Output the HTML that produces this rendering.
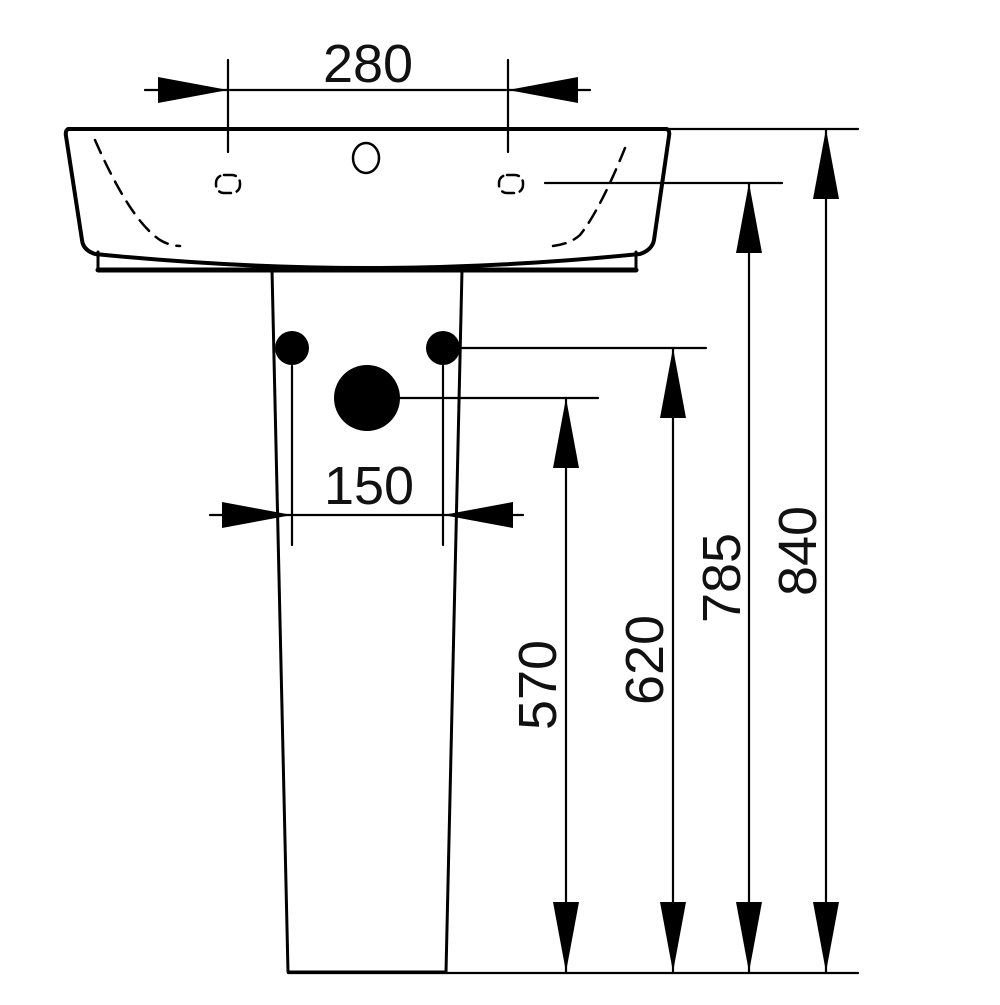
<!DOCTYPE html>
<html><head><style>html,body{margin:0;padding:0;background:#fff}</style></head>
<body>
<svg width="1000" height="1000" viewBox="0 0 1000 1000" xmlns="http://www.w3.org/2000/svg">
<defs>
<marker id="a" viewBox="0 0 70 26" refX="70" refY="13" markerWidth="70" markerHeight="26" markerUnits="userSpaceOnUse" orient="auto"><path d="M0,0 L70,13 L0,26 Z" fill="#000"/></marker>
</defs>
<g fill="none" stroke="#000" stroke-linecap="round" stroke-linejoin="round">
<path d="M68,129 L667,129 Q670,131 669,136 L654,240 Q652,250 640,254 Q500,268 367,268 Q234,268 95,254 Q83,250 82,240 L66,136 Q65,131 68,129 Z" stroke-width="4"/>
<path d="M98,252 L98,270 L636,270 L636,252" stroke-width="3"/>
<line x1="98" y1="270" x2="636" y2="270" stroke-width="5"/>
<path d="M95,140 Q130,220 160,240 Q170,246 180,246" stroke-width="2.5" stroke-dasharray="14,9"/>
<path d="M625,148 Q600,210 580,235 Q570,244 553,246" stroke-width="2.5" stroke-dasharray="14,9"/>
<ellipse cx="366" cy="158" rx="13" ry="15" stroke-width="2.5"/>
<rect x="216" y="175" width="24" height="18" rx="8" stroke-width="2.5" stroke-dasharray="12,6"/>
<rect x="499" y="175" width="24" height="18" rx="8" stroke-width="2.5" stroke-dasharray="12,6"/>
<path d="M272,270 L288,972 L446,972 L462,270" stroke-width="3"/>
<g stroke-width="2.2">
<line x1="228" y1="60" x2="228" y2="152"/>
<line x1="508" y1="60" x2="508" y2="152"/>
<line x1="230" y1="90" x2="506" y2="90"/>
<line x1="145" y1="90" x2="228" y2="90" marker-end="url(#a)"/>
<line x1="590" y1="90" x2="508" y2="90" marker-end="url(#a)"/>
<line x1="292" y1="366" x2="292" y2="545"/>
<line x1="443" y1="366" x2="443" y2="545"/>
<line x1="292" y1="515" x2="443" y2="515"/>
<line x1="210" y1="515" x2="292" y2="515" marker-end="url(#a)"/>
<line x1="523" y1="515" x2="443" y2="515" marker-end="url(#a)"/>
<line x1="669" y1="129" x2="858" y2="129"/>
<line x1="545" y1="183" x2="782" y2="183"/>
<line x1="462" y1="348" x2="706" y2="348"/>
<line x1="400" y1="398" x2="598" y2="398"/>
<line x1="288" y1="973" x2="858" y2="973"/>
<line x1="826" y1="550" x2="826" y2="129" marker-end="url(#a)"/>
<line x1="826" y1="550" x2="826" y2="972" marker-end="url(#a)"/>
<line x1="749" y1="580" x2="749" y2="183" marker-end="url(#a)"/>
<line x1="749" y1="580" x2="749" y2="972" marker-end="url(#a)"/>
<line x1="673" y1="660" x2="673" y2="348" marker-end="url(#a)"/>
<line x1="673" y1="660" x2="673" y2="972" marker-end="url(#a)"/>
<line x1="566" y1="685" x2="566" y2="398" marker-end="url(#a)"/>
<line x1="566" y1="685" x2="566" y2="972" marker-end="url(#a)"/>
</g>
</g>
<circle cx="292" cy="348" r="17" fill="#000"/>
<circle cx="443" cy="348" r="17" fill="#000"/>
<circle cx="367" cy="398" r="33" fill="#000"/>
<g font-family="Liberation Sans, sans-serif" font-size="54" fill="#111" text-anchor="middle">
<text x="368" y="82">280</text>
<text x="369" y="504">150</text>
<text transform="translate(556,685) rotate(-90)">570</text>
<text transform="translate(663,660) rotate(-90)">620</text>
<text transform="translate(740,578) rotate(-90)">785</text>
<text transform="translate(816,551) rotate(-90)">840</text>
</g>
</svg>
</body></html>
